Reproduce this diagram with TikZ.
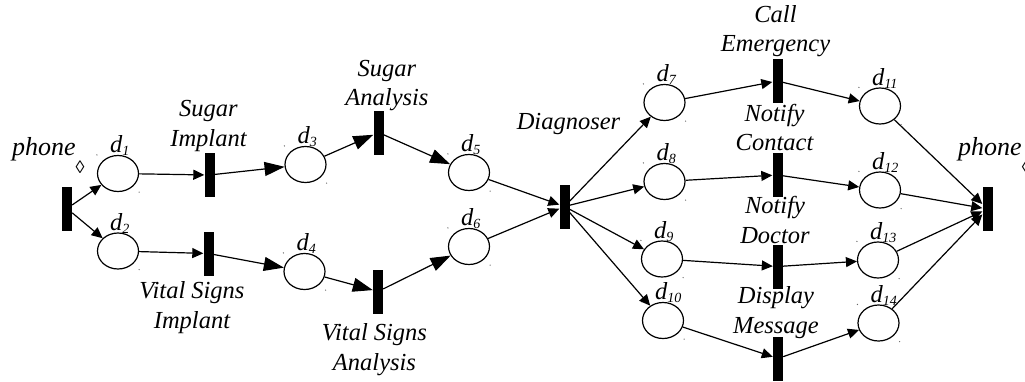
\documentclass[tikz,border=0pt]{standalone}
\usepackage{fontspec}
\setmainfont{Liberation Serif}
\usetikzlibrary{arrows.meta,shapes.geometric}
\newcommand\psub[1]{\raisebox{-3pt}{\fontsize{14}{14}\selectfont #1}}
\newcommand\lozsub{\raisebox{-18pt}{\fontsize{18}{18}\selectfont\upshape ◊}}
\begin{document}
\begin{tikzpicture}[x=1pt,y=-1pt,
  place/.style={draw,ellipse,line width=1.2pt,minimum width=41pt,minimum height=36pt,inner sep=0pt},
  trans/.style={fill=black,draw=none,rectangle,minimum width=10pt,minimum height=44pt,inner sep=0pt},
  lbl/.style={font=\fontsize{24.5}{29.5}\selectfont\itshape,inner sep=0pt,align=center},
  plbl/.style={font=\fontsize{24.5}{29.5}\selectfont\itshape,inner sep=0pt,anchor=base west},
  phlbl/.style={font=\fontsize{26}{30}\selectfont\itshape,inner sep=0pt,anchor=base west},
  arc/.style={line width=1.2pt,-{Triangle[length=11pt,width=10pt]}},
  bigarc/.style={line width=1.2pt,-{Triangle[length=20pt,width=14pt]}},
  cdot/.style={fill=black!60}
]
\useasboundingbox (0,0) rectangle (1025,381);

% transitions
\node[trans] (t0)   at (67,208.5) {};
\node[trans] (tsi)  at (209.5,175) {};
\node[trans] (tvi)  at (208.5,253.5) {};
\node[trans] (tsa)  at (378.5,132.5) {};
\node[trans] (tva)  at (378,291.5) {};
\node[trans] (tdg)  at (564.5,206.5) {};
\node[trans] (tce)  at (777.5,81) {};
\node[trans] (tnc)  at (777.5,175) {};
\node[trans] (tnd)  at (778,266.5) {};
\node[trans] (tdm)  at (778,358.5) {};
\node[trans] (tend) at (987.5,209) {};

% places
\node[place] (d1)  at (118,173.5) {};
\node[place] (d2)  at (118,251) {};
\node[place] (d3)  at (305.5,164.5) {};
\node[place] (d4)  at (304.5,271.5) {};
\node[place] (d5)  at (469,172.5) {};
\node[place] (d6)  at (469,246.5) {};
\node[place] (d7)  at (664.5,102.5) {};
\node[place] (d8)  at (664.5,181.5) {};
\node[place] (d9)  at (662,259) {};
\node[place] (d10) at (663,320.5) {};
\node[place] (d11) at (880,106) {};
\node[place] (d12) at (880,190) {};
\node[place] (d13) at (878,260) {};
\node[place] (d14) at (878.5,323) {};

% corner marks of places
\foreach \p in {d1,d2,d3,d4,d5,d6,d7,d8,d9,d10,d11,d12,d13,d14}{
  \fill[cdot] (\p.north -| \p.west) circle (0.7);
  \fill[cdot] (\p.south -| \p.east) circle (0.7);
}

% place labels
\foreach \p/\n in {d1/1,d2/2,d3/3,d4/4,d5/5,d6/6,d7/7,d8/8,d9/9,d10/10,d11/11,d12/12,d13/13,d14/14}{
  \node[plbl] (l\p) at ([xshift=-8pt,yshift=2pt]\p.north) {d\psub{\n}};
}

% transition labels (anchor=base is the baseline of the last line)
\node[phlbl] (lphoneA) at (12,155) {phone\lozsub};
\node[phlbl] (lphoneB) at (958,155) {phone\lozsub};
\node[lbl,anchor=base] (lsi) at (208.5,146) {Sugar\\Implant};
\node[lbl,anchor=base] (lvi) at (192,328) {Vital Signs\\Implant};
\node[lbl,anchor=base] (lsa) at (387,105.5) {Sugar\\Analysis};
\node[lbl,anchor=base] (lva) at (374.5,370) {Vital Signs\\Analysis};
\node[lbl,anchor=base] (ldg) at (568.5,129) {Diagnoser};
\node[lbl,anchor=base] (lce) at (775.5,51.7) {Call\\Emergency};
\node[lbl,anchor=base] (lnc) at (774.5,150.5) {Notify\\Contact};
\node[lbl,anchor=base] (lnd) at (775,243) {Notify\\Doctor};
\node[lbl,anchor=base] (ldm) at (776,333) {Display\\Message};

% arcs
\draw[arc] (t0) -- (d1);
\draw[arc] (t0) -- (d2);
\draw[arc] (d1) -- (tsi);
\draw[arc] (d2) -- (tvi);
\draw[bigarc] (tsi) -- (d3);
\draw[bigarc] (tvi) -- (d4);
\draw[bigarc] (d3) -- (tsa);
\draw[bigarc] (d4) -- (tva);
\draw[bigarc] (tsa) -- (d5);
\draw[bigarc] (tva) -- (d6);
\draw[arc] (d5) -- (tdg);
\draw[arc] (d6) -- (tdg);
\foreach \p in {d7,d8,d9,d10}{\draw[arc] (tdg) -- (\p);}
\draw[arc] (d7) -- (tce);
\draw[arc] (d8) -- (tnc);
\draw[arc] (d9) -- (tnd);
\draw[arc] (d10) -- (tdm);
\draw[arc] (tce) -- (d11);
\draw[arc] (tnc) -- (d12);
\draw[arc] (tnd) -- (d13);
\draw[arc] (tdm) -- (d14);
\foreach \p in {d11,d12,d13,d14}{\draw[arc] (\p) -- (tend);}
\end{tikzpicture}
\end{document}
